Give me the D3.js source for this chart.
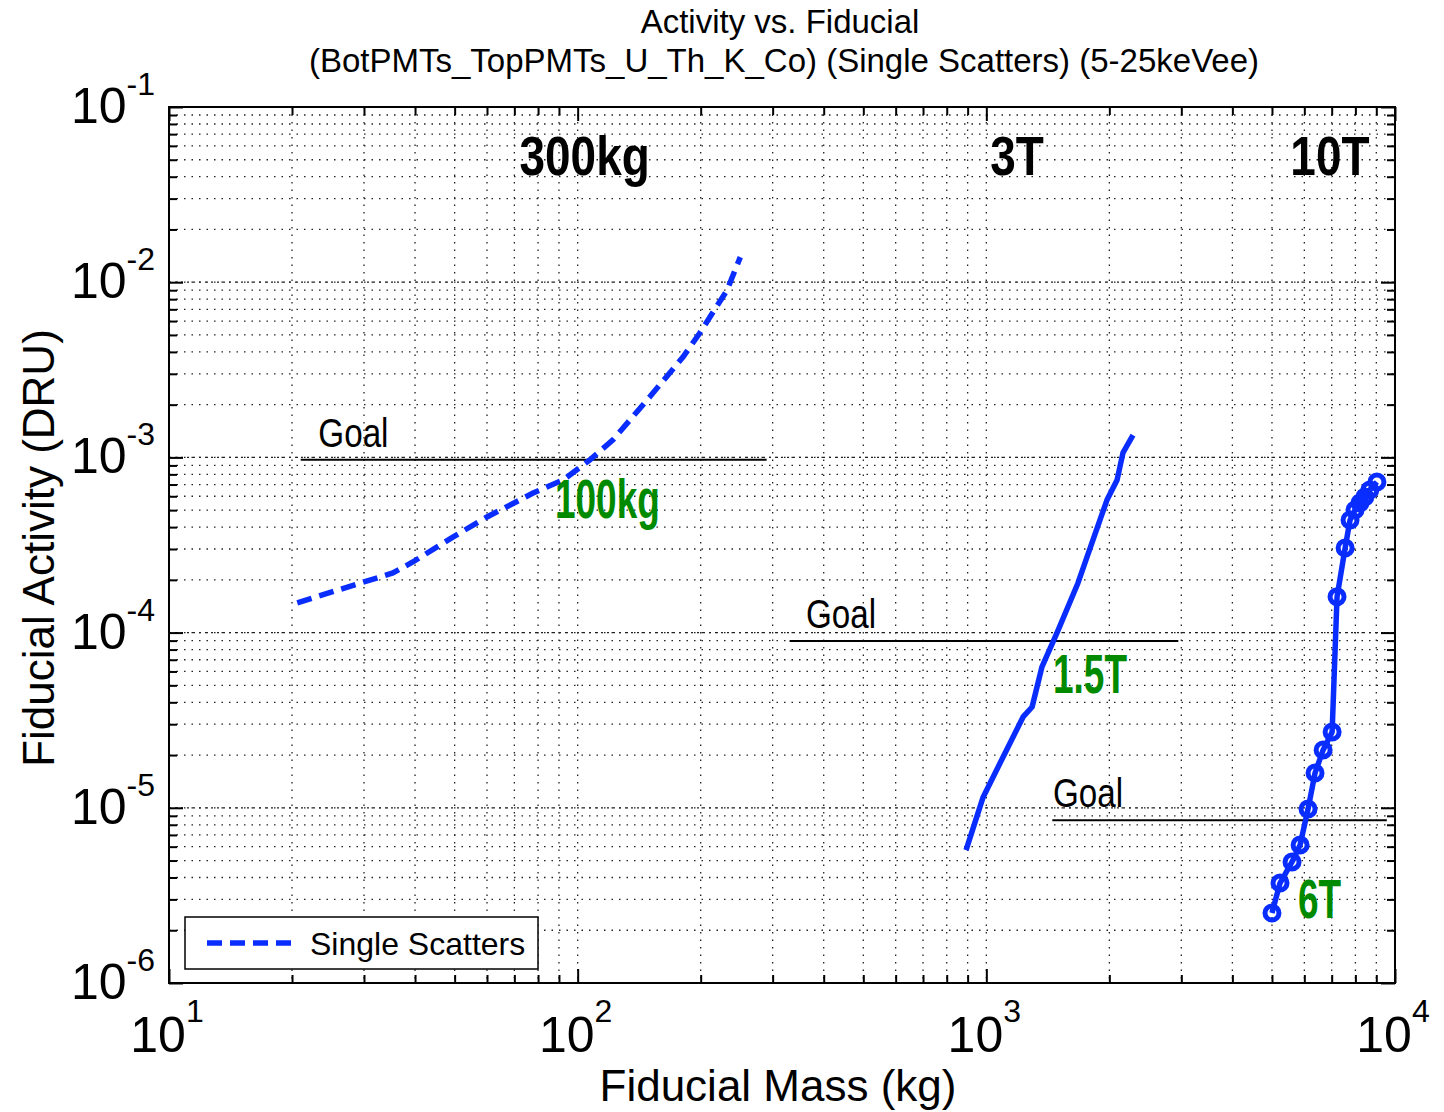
<!DOCTYPE html>
<html>
<head>
<meta charset="utf-8">
<script src="https://cdn.jsdelivr.net/npm/d3@7"></script>
<style>
body { margin: 0; background: #fff; }
text { font-family: "Liberation Sans", Arial, sans-serif; fill: #000; }
</style>
</head>
<body>
<svg id="chart"></svg>
<script>
// 300kg detector (dashed, legend entry)
const mass300 = [20.6, 35.3, 39.5, 49.5, 60.0, 77.8, 92.1, 107, 122, 150, 181, 199, 232, 250];
const dru300  = [1.48e-4, 2.19e-4, 2.53e-4, 3.51e-4, 4.57e-4, 6.26e-4, 7.43e-4, 9.66e-4, 1.26e-3, 2.21e-3, 3.74e-3, 5.13e-3, 9.0e-3, 1.39e-2];

// 3T detector
const mass3T = [892, 982, 1099, 1230, 1294, 1368, 1489, 1676, 1763, 1973, 2089, 2159, 2285];
const dru3T  = [5.74e-6, 1.15e-5, 1.95e-5, 3.30e-5, 3.76e-5, 6.37e-5, 9.95e-5, 1.92e-4, 2.70e-4, 5.71e-4, 7.43e-4, 1.06e-3, 1.34e-3];

// 10T detector (with markers)
const mass10T = [5000, 5232, 5598, 5859, 6127, 6373, 6670, 7017, 7214, 7550, 7763, 7982, 8207, 8438, 8677, 9031];
const dru10T  = [2.51e-6, 3.72e-6, 4.91e-6, 6.14e-6, 9.85e-6, 1.58e-5, 2.14e-5, 2.71e-5, 1.60e-4, 3.04e-4, 4.39e-4, 5.01e-4, 5.49e-4, 5.94e-4, 6.52e-4, 7.24e-4];

// goal levels and their extent
const goalLevel = [9.7e-4, 8.95e-5, 8.5e-6];
const goalFrom  = [21, 330, 1450];
const goalTo    = [290, 2950, 9550];
const goalTextX = [23.2, 362, 1456];

// detector size labels
const sizeLabels = ['300kg', '3T', '10T'];
const sizeLabelX = [104, 1189, 6930];
const sizeLabelY = 0.041;

// fiducial mass labels (green)
const fidLabels = ['100kg', '1.5T', '6T'];
const fidLabelX = [88, 1456, 5790];
const fidLabelY = [4.5e-4, 4.52e-5, 2.35e-6];

const xExp = [1, 2, 3, 4];
const yExp = [-1, -2, -3, -4, -5, -6];

const W = 1444, H = 1112;
const margin = {top: 107, right: 49, bottom: 129, left: 169};
const iw = W - margin.left - margin.right;
const ih = H - margin.top - margin.bottom;
const blue = '#0a2dff';

const svg = d3.select('#chart').attr('width', W).attr('height', H);
const chart = svg.append('g').attr('transform', `translate(${margin.left},${margin.top})`);

const x = d3.scaleLog().domain([10, 1e4]).range([0, iw]);
const y = d3.scaleLog().domain([1e-6, 1e-1]).range([ih, 0]);

const xMajor = xExp.map(e => Math.pow(10, e));
const yMajor = yExp.map(e => Math.pow(10, e));
const minors = (lo, hi) => {
    const out = [];
    for (let e = lo; e < hi; e++) for (let m = 2; m <= 9; m++) out.push(m * Math.pow(10, e));
    return out;
};
const xMinor = minors(1, 4);
const yMinor = minors(-6, -1);

// grid
const grid = chart.append('g').attr('stroke', '#222').attr('stroke-width', 1.3);
grid.selectAll('.gx').data(xMinor.concat(xMajor)).join('line')
    .attr('x1', d => x(d)).attr('x2', d => x(d)).attr('y1', 0).attr('y2', ih)
    .attr('stroke-dasharray', '1.5,6');
grid.selectAll('.gy').data(yMinor.concat(yMajor)).join('line')
    .attr('y1', d => y(d)).attr('y2', d => y(d)).attr('x1', 0).attr('x2', iw)
    .attr('stroke-dasharray', '1.5,6');
grid.selectAll('.gym').data(yMajor).join('line')
    .attr('y1', d => y(d)).attr('y2', d => y(d)).attr('x1', 0).attr('x2', iw)
    .attr('stroke-dasharray', '2,4');

// ticks on all four sides
const tickAxis = (axisFn, scale, vals, len, tr) => {
    chart.append('g').attr('transform', tr)
        .call(axisFn(scale).tickValues(vals).tickSize(len).tickFormat(''))
        .call(g => g.select('.domain').remove())
        .call(g => g.selectAll('line').attr('stroke', '#000').attr('stroke-width', 2));
};
tickAxis(d3.axisBottom, x, xMajor, -14, `translate(0,${ih})`);
tickAxis(d3.axisBottom, x, xMinor, -8, `translate(0,${ih})`);
tickAxis(d3.axisTop, x, xMajor, -14, 'translate(0,0)');
tickAxis(d3.axisTop, x, xMinor, -8, 'translate(0,0)');
tickAxis(d3.axisLeft, y, yMajor, -14, 'translate(0,0)');
tickAxis(d3.axisLeft, y, yMinor, -8, 'translate(0,0)');
tickAxis(d3.axisRight, y, yMajor, -14, `translate(${iw},0)`);
tickAxis(d3.axisRight, y, yMinor, -8, `translate(${iw},0)`);

chart.append('rect').attr('width', iw).attr('height', ih)
    .attr('fill', 'none').attr('stroke', '#000').attr('stroke-width', 2);

// tick labels with superscript
chart.append('g').selectAll('text').data(xExp).join('text')
    .attr('x', d => x(Math.pow(10, d)) - 2).attr('y', ih + 69)
    .attr('text-anchor', 'middle')
    .style('font-size', '50px')
    .each(function (d) {
        const t = d3.select(this);
        t.append('tspan').text('10');
        t.append('tspan').attr('dy', -30).style('font-size', '32px').text(d);
    });

chart.append('g').selectAll('text').data(yExp).join('text')
    .attr('x', -14).attr('y', d => y(Math.pow(10, d)) + 16)
    .attr('text-anchor', 'end')
    .style('font-size', '50px')
    .each(function (d) {
        const t = d3.select(this);
        t.append('tspan').text('10');
        t.append('tspan').attr('dy', -28).style('font-size', '32px').text(d);
    });

// goal lines
chart.append('g').selectAll('line').data(goalLevel).join('line')
    .attr('x1', (d, i) => x(goalFrom[i])).attr('x2', (d, i) => x(goalTo[i]))
    .attr('y1', d => y(d)).attr('y2', d => y(d))
    .attr('stroke', '#000').attr('stroke-width', 2);
chart.append('g').selectAll('text').data(goalLevel).join('text')
    .attr('transform', (d, i) => `translate(${x(goalTextX[i])},${y(d) - 13}) scale(0.83,1)`)
    .style('font-size', '40px')
    .text('Goal');

// curves
const line = d3.line().x(d => x(d[0])).y(d => y(d[1]));
const pts300 = mass300.map((m, i) => [m, dru300[i]]);
const pts3T = mass3T.map((m, i) => [m, dru3T[i]]);
const pts10T = mass10T.map((m, i) => [m, dru10T[i]]);

chart.append('path').datum(pts300).attr('d', line)
    .attr('fill', 'none').attr('stroke', blue).attr('stroke-width', 5.5)
    .attr('stroke-dasharray', '15,8');
chart.append('path').datum(pts3T).attr('d', line)
    .attr('fill', 'none').attr('stroke', blue).attr('stroke-width', 5.5)
    .attr('stroke-linejoin', 'round');
chart.append('path').datum(pts10T).attr('d', line)
    .attr('fill', 'none').attr('stroke', blue).attr('stroke-width', 5.5)
    .attr('stroke-linejoin', 'round');
chart.append('g').selectAll('circle').data(pts10T).join('circle')
    .attr('cx', d => x(d[0])).attr('cy', d => y(d[1])).attr('r', 7)
    .attr('fill', 'none').attr('stroke', blue).attr('stroke-width', 5);

// labels
chart.append('g').selectAll('text').data(sizeLabels).join('text')
    .attr('transform', (d, i) => `translate(${x(sizeLabelX[i])},${y(sizeLabelY)}) scale(0.82,1)`)
    .attr('text-anchor', 'middle')
    .style('font-size', '56px').style('font-weight', 'bold')
    .text(d => d);
chart.append('g').selectAll('text').data(fidLabels).join('text')
    .attr('transform', (d, i) => `translate(${x(fidLabelX[i])},${y(fidLabelY[i])}) scale(0.66,1)`)
    .style('font-size', '56px').style('font-weight', 'bold')
    .style('fill', '#008a00')
    .text(d => d);

// legend
const legend = svg.append('g').attr('transform', 'translate(185,917)');
legend.append('rect').attr('width', 353).attr('height', 52)
    .attr('fill', '#fff').attr('stroke', '#000').attr('stroke-width', 1.5);
legend.append('line').attr('x1', 22).attr('x2', 114).attr('y1', 26).attr('y2', 26)
    .attr('stroke', blue).attr('stroke-width', 5.5).attr('stroke-dasharray', '15,8');
legend.append('text').attr('x', 125).attr('y', 38)
    .style('font-size', '32px').text('Single Scatters');

// titles
svg.append('text').attr('x', 780).attr('y', 33).attr('text-anchor', 'middle')
    .style('font-size', '33px').text('Activity vs. Fiducial');
svg.append('text').attr('x', 784).attr('y', 72).attr('text-anchor', 'middle')
    .style('font-size', '33px').text('(BotPMTs_TopPMTs_U_Th_K_Co) (Single Scatters) (5-25keVee)');
svg.append('text').attr('x', 778).attr('y', 1101).attr('text-anchor', 'middle')
    .style('font-size', '44px').text('Fiducial Mass (kg)');
svg.append('text').attr('transform', 'translate(54,548) rotate(-90)').attr('text-anchor', 'middle')
    .style('font-size', '44px').text('Fiducial Activity (DRU)');
</script>
</body>
</html>
